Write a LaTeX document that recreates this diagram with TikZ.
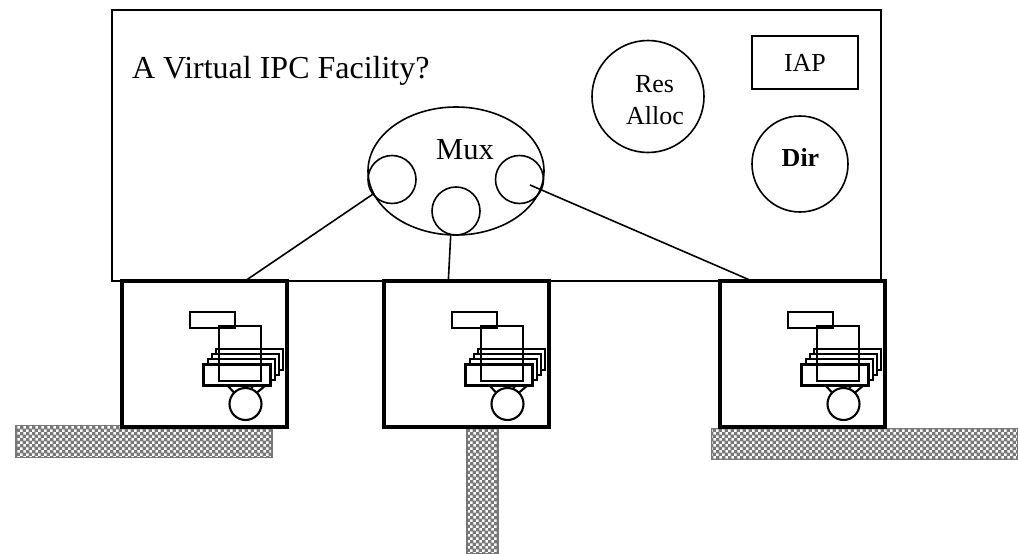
\documentclass[tikz,border=0pt]{standalone}
\usepackage{fontspec}
\setmainfont{Liberation Serif}
\usetikzlibrary{patterns,shapes.geometric}
\pgfdeclarepatternformonly{checks}{\pgfqpoint{-0.5pt}{-0.5pt}}{\pgfqpoint{5.5pt}{5.5pt}}{\pgfqpoint{6pt}{6pt}}{%
  \pgfpathrectangle{\pgfqpoint{0pt}{0pt}}{\pgfqpoint{2.9pt}{2.9pt}}%
  \pgfpathrectangle{\pgfqpoint{3pt}{3pt}}{\pgfqpoint{2.9pt}{2.9pt}}%
  \pgfusepath{fill}}
\definecolor{stripgray}{gray}{0.47}
\tikzset{
  x=1pt,y=-1pt,
  thinline/.style={draw=black,line width=1.6pt},
  circ/.style={circle,thinline,fill=none,inner sep=0pt,outer sep=0pt,minimum size=#1},
  rbox/.style={rectangle,thinline,inner sep=0pt,outer sep=0pt},
  lanstrip/.style={rectangle,preaction={fill=stripgray},preaction={pattern=checks,pattern color=white},draw=stripgray,line width=1.6pt,inner sep=0pt,outer sep=0pt},
  heavybox/.style={rectangle,draw=black,line width=3.5pt,fill=white,inner sep=0pt,outer sep=0pt,minimum width=165pt,minimum height=146pt},
  stacked/.style={rbox,fill=white,minimum width=67pt,minimum height=21pt},
  label/.style={inner sep=0pt,outer sep=0pt,font=\fontsize{26}{32}\selectfont,anchor=base},
}
\newcommand{\ipcunit}[2]{%
  \node[heavybox] (#1) at (#2+204.5,354) {};
  \node[rbox,minimum width=45pt,minimum height=16pt,line width=2.1pt] (#1tag) at (#2+212.5,320) {};
  \foreach \k in {3,2,1,0}{
    \node[stacked,line width=2.1pt] (#1s\k) at ({#2+237+4.1*\k},{375-5.3*\k}) {};
  }
  \node[circ=32pt,line width=2.1pt] (#1c) at (#2+245.5,404) {};
  \draw[line width=2.1pt] (#1s0.south west)++(24pt,0) coordinate (#1a) -- (#1c.135);
  \draw[line width=2.1pt] (#1s0.south west)++(62pt,0) coordinate (#1b) -- (#1c.45);
  \draw[line width=2.1pt] (#1s0.south west)++(50pt,0) coordinate (#1d) -- (#1c.70);
  \node[rbox,line width=2.1pt,minimum width=42pt,minimum height=55pt] (#1q) at (#2+240,353.5) {};
}
\begin{document}
\begin{tikzpicture}
\useasboundingbox (0,0) rectangle (1018,554);
\node[lanstrip,minimum width=256pt,minimum height=32pt] (lan1) at (144,441.5) {};
\node[lanstrip,minimum width=31.5pt,minimum height=126pt] (lan2) at (482.5,491) {};
\node[lanstrip,minimum width=306pt,minimum height=31pt] (lan3) at (864.5,444) {};
\node[rbox,minimum width=769pt,minimum height=271pt] (vipc) at (496.5,145.5) {};
\ipcunit{boxa}{0}
\ipcunit{boxb}{262}
\ipcunit{boxc}{598}
\node[label,font=\fontsize{32}{38}\selectfont,anchor=base west] (title) at (132,78.5) {A Virtual IPC Facility?};
\node[ellipse,thinline,inner sep=0pt,outer sep=0pt,minimum width=176pt,minimum height=128pt] (mux) at (456,171) {};
\node[label,font=\fontsize{30.5}{36}\selectfont] (muxt) at (465,159) {Mux};
\node[circ=48pt] (m1) at (392,179.5) {};
\node[circ=48pt] (m2) at (456,211) {};
\node[circ=48pt] (m3) at (519.5,179.5) {};
\coordinate (ea) at (245,281);
\coordinate (eb) at (448.3,281);
\coordinate (ec) at (752,281);
\coordinate (m1out) at (372.7,194.3);
\coordinate (m2out) at (450.7,235.5);
\coordinate (m3in) at (530,185);
\draw[thinline] (m1out) -- (ea);
\draw[thinline] (m2out) -- (eb);
\draw[thinline] (m3in) -- (ec);
\node[circ=112pt] (res) at (648,96.5) {};
\node[label] (rest1) at (654.5,92) {Res};
\node[label] (rest2) at (655,124) {Alloc};
\node[circ=96pt] (dir) at (800,164) {};
\node[label,font=\fontsize{26}{32}\selectfont\bfseries] (dirt) at (800.5,166) {Dir};
\node[rbox,minimum width=106pt,minimum height=53pt] (iap) at (805,62.5) {};
\node[label] (iapt) at (805,71) {IAP};
\end{tikzpicture}
\end{document}
